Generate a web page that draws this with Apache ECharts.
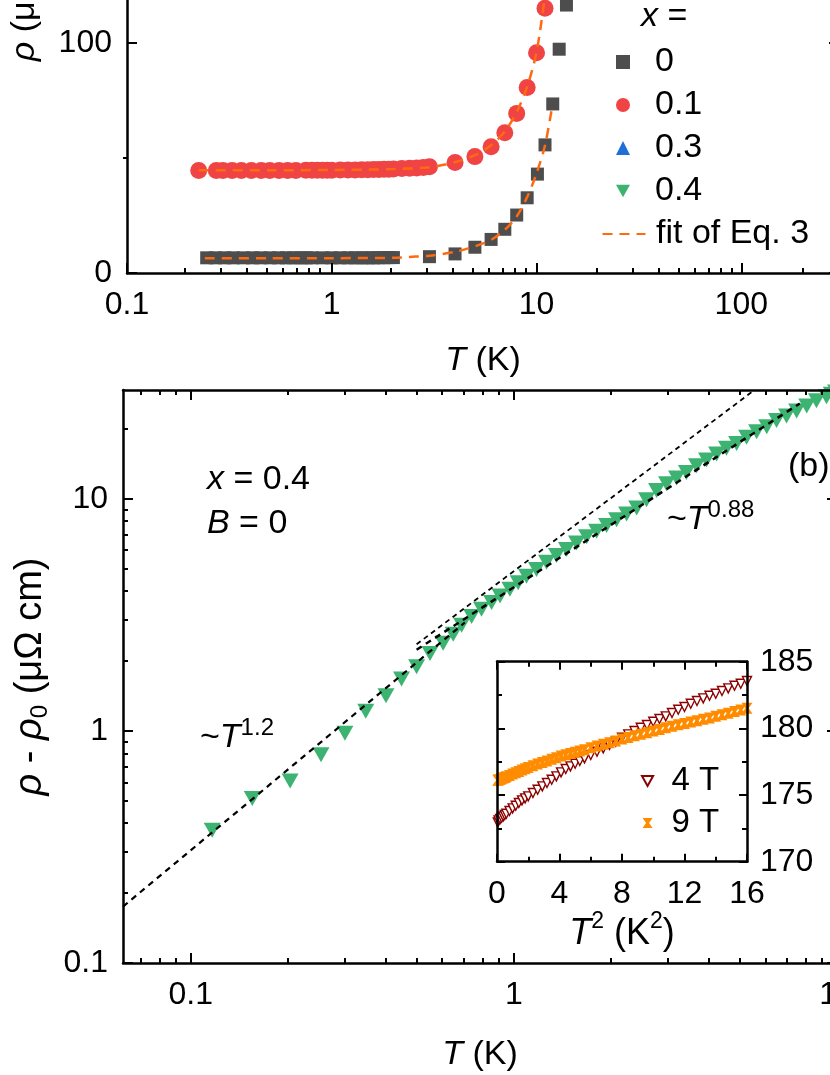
<!DOCTYPE html>
<html><head><meta charset="utf-8">
<script src="https://cdn.jsdelivr.net/npm/echarts@6/dist/echarts.min.js"></script>
<style>
html,body{margin:0;padding:0;width:830px;height:1075px;overflow:hidden;background:#fff}
#c{position:absolute;left:0;top:-330px;width:900px;height:1405px}
</style></head>
<body><div id="c"></div>
<script>
// ---------- panel (a): rho(T) ----------
const T_x0 = [0.245,0.27,0.30,0.33,0.37,0.41,0.45,0.50,0.55,0.60,0.65,0.70,0.75,0.80,0.90,1.0,1.1,1.2,1.3,1.4,1.5,1.6,1.7,1.8,1.9,2.0,3.0,4.0,5.0,6.0,7.0,8.0,9.0,10.1,11.0,12.0,12.9,14.0];
const rho_x0 = [6.6,6.6,6.6,6.6,6.6,6.6,6.6,6.6,6.6,6.6,6.6,6.6,6.6,6.6,6.6,6.6,6.6,6.6,6.6,6.6,6.6,6.6,6.65,6.65,6.7,6.7,7.1,8.3,11.2,14.6,19.0,25.2,32.7,43.0,55.7,73.5,97.3,116.5];
const T_x01 = [0.224,0.273,0.294,0.326,0.362,0.405,0.452,0.498,0.553,0.609,0.668,0.747,0.80,0.85,0.90,0.95,1.0,1.1,1.2,1.3,1.4,1.5,1.6,1.7,1.8,1.9,2.0,2.2,2.4,2.6,2.8,3.0,4.0,5.0,6.0,7.0,8.0,9.0,10.0,11.0];
const rho_x01 = [44.6,44.6,44.6,44.6,44.6,44.6,44.6,44.6,44.6,44.6,44.6,44.7,44.7,44.7,44.7,44.7,44.7,44.8,44.8,44.8,44.9,44.9,45.0,45.0,45.1,45.1,45.2,45.4,45.5,45.7,45.9,46.2,48.0,50.6,54.9,61.0,69.4,80.7,95.8,115.1];
const fitT_x0 = [0.24,0.5,1,2,2.4,3,4,5,6,7,8,9,10,11,11.9];
const fitR_x0 = [6.4,6.4,6.45,6.6,7.0,7.5,9.2,11.6,14.4,18.8,24.6,33.0,43.3,55.5,72];
const fitT_x01 = [0.224,0.5,1,2,3,4,5,6,7,8,9,10,10.9];
const fitR_x01 = [44.7,44.7,44.8,45.2,46.0,48.2,51.2,55.5,61.5,70,81,96,118];
const legendA = ['0','0.1','0.3','0.4'];
const legendFit = ['fit of Eq. 3'];
const topXTicks = [0.1,1,10,100];
const topXMinor = [0.2,0.3,0.4,0.5,0.6,0.7,0.8,0.9,2,3,4,5,6,7,8,9,20,30,40,50,60,70,80,90,200];
const topYTicks = [0,100,200];
const topYMinor = [50,150];

// ---------- panel (b): rho - rho0 for x = 0.4 ----------
const T_b = [0.1165,0.155,0.203,0.253,0.300,0.348,0.402,0.449,0.500,0.550,0.604,0.649,0.689,0.740,0.794,0.853,0.906,0.972,1.031,1.094,1.175,1.262,1.355,1.455,1.563,1.679,1.803,1.936,2.079,2.233,2.399,2.574,2.764,2.968,3.187,3.42,3.675,3.946,4.24,4.55,4.89,5.25,5.64,6.06,6.50,6.98,7.50,8.06,8.64,9.28,9.6,9.9];
const drho_b = [0.373,0.511,0.608,0.789,0.977,1.215,1.418,1.672,1.888,2.156,2.386,2.61,2.85,3.11,3.34,3.57,3.81,4.07,4.35,4.64,4.96,5.33,5.69,6.04,6.45,6.85,7.24,7.66,8.12,8.60,9.12,9.90,10.85,11.60,12.27,12.97,13.86,14.70,15.6,16.5,17.3,18.4,19.45,20.4,21.7,22.7,23.9,25.1,26.4,27.5,28.2,28.8];
const lineA_T = [0.0617,0.705], lineA_R = [0.175,2.93];   // ~T^1.2
const lineB_T = [0.50,7.67],    lineB_R = [2.236,25.7];   // ~T^0.88
const lineC_T = [0.50,5.5],     lineC_R = [2.36,29.1];
const botXTicks = [0.1,1,10];
const botXMinor = [0.07,0.08,0.09,0.2,0.3,0.4,0.5,0.6,0.7,0.8,0.9,2,3,4,5,6,7,8,9];
const botYTicks = [0.1,1,10];
const botYMinor = [0.2,0.3,0.4,0.5,0.6,0.7,0.8,0.9,2,3,4,5,6,7,8,9,20];

// ---------- inset: rho vs T^2 ----------
const T2_in = [0.05,0.1,0.2,0.3,0.4,0.5,0.6,0.8,1.0,1.2,1.4,1.6,1.8,2.0,2.3,2.6,2.9,3.2,3.5,3.8,4.1,4.4,4.7,5.0,5.3,5.6,6.0,6.4,6.8,7.2,7.6,8.0,8.4,8.8,9.2,9.6,10.0,10.4,10.8,11.2,11.6,12.0,12.4,12.8,13.2,13.6,14.0,14.4,14.8,15.2,15.6,16.0];
const rho_4T = [172.95,173.1,173.2,173.3,173.4,173.5,173.6,173.8,174.0,174.2,174.4,174.6,174.75,174.9,175.15,175.4,175.65,175.9,176.15,176.4,176.7,176.95,177.15,177.35,177.55,177.75,178.0,178.25,178.5,178.75,179.0,179.3,179.55,179.8,180.05,180.25,180.5,180.7,180.9,181.15,181.4,181.6,181.85,182.05,182.25,182.45,182.6,182.8,183.0,183.2,183.35,183.55];
const rho_9T = [176.1,176.12,176.17,176.22,176.27,176.32,176.37,176.47,176.57,176.67,176.77,176.87,176.97,177.07,177.2,177.32,177.44,177.56,177.68,177.8,177.92,178.03,178.12,178.2,178.3,178.4,178.55,178.68,178.8,178.93,179.05,179.2,179.32,179.44,179.56,179.68,179.8,179.92,180.04,180.16,180.28,180.36,180.48,180.58,180.68,180.78,180.9,181.02,181.14,181.26,181.38,181.5];
const legendIn = ['4 T','9 T'];

// ---------- helpers ----------
const OFF = 330;
const FONT = 'Liberation Sans';
const C = v => v + OFF;
const zip = (a, b) => a.map((v, i) => [v, b[i]]);
const logFmt = v => String(Number(Number(v).toPrecision(6)));
const BLACK = '#000';
const DOWN_TRI = 'path://M0,0L10,0L5,9Z';
const BOWTIE = 'path://M0,0L10,0L6.5,5L10,10L0,10L3.5,5Z';

function rich(base, lh, sup) {
  lh = lh || 44; sup = sup || 24;
  return {
    n: {fontSize: base, lineHeight: lh, fontFamily: FONT, color: BLACK, fill: BLACK},
    i: {fontSize: base, lineHeight: lh, fontFamily: FONT, fontStyle: 'italic', color: BLACK, fill: BLACK},
    p: {fontSize: sup, lineHeight: sup, fontFamily: FONT, verticalAlign: 'top', color: BLACK, fill: BLACK},
    s: {fontSize: sup, lineHeight: sup, fontFamily: FONT, verticalAlign: 'bottom', color: BLACK, fill: BLACK}
  };
}

function axis(o) {
  return {
    type: o.type, gridIndex: o.g, position: o.pos, min: o.min, max: o.max,
    logBase: 10, interval: o.interval,
    axisLine: {show: o.line !== false, onZero: false, lineStyle: {color: BLACK, width: 2.5}},
    axisTick: {show: true, inside: true, length: o.len || 10, customValues: o.ticks, lineStyle: {color: BLACK, width: 2}},
    minorTick: o.minor ? {show: true, splitNumber: o.minor, length: 5, lineStyle: {color: BLACK, width: 2}} : {show: false},
    axisLabel: o.labels ? {show: true, customValues: o.labelValues, margin: o.margin, fontSize: 32,
      fontFamily: FONT, color: BLACK, formatter: o.fmt} : {show: false},
    splitLine: {show: false}, minorSplitLine: {show: false},
    name: o.name || '', nameLocation: 'middle', nameGap: o.nameGap || 0,
    nameTextStyle: {fontSize: 34, fontFamily: FONT, color: BLACK, rich: o.nameRich || rich(34)},
    z: 5
  };
}

const gridA = {left: 123, top: C(-302), width: 716, height: 575};
const gridB = {left: 123, top: C(390), width: 714, height: 573};
const gridI = {left: 497, top: C(661.7), width: 250, height: 200, show: true, backgroundColor: '#fff', borderWidth: 0};

const xAxes = [
  axis({type:'log', g:0, pos:'bottom', min:0.1, max:300, ticks:topXTicks, labels:true, labelValues:topXTicks, margin:16, fmt:logFmt,
        name:'{i|T}{n| (K)}', nameGap:66}),
  axis({type:'log', g:0, pos:'top', min:0.1, max:300, ticks:topXTicks}),
  axis({type:'log', g:1, pos:'bottom', min:0.1, max:300, ticks:topXMinor, len:5, line:false}),
  axis({type:'log', g:1, pos:'top', min:0.1, max:300, ticks:topXMinor, len:5, line:false}),
  axis({type:'log', g:2, pos:'bottom', min:0.0617, max:10, ticks:botXTicks, labels:true, labelValues:botXTicks, margin:16, fmt:logFmt,
        name:'{i|T}{n| (K)}', nameGap:70}),
  axis({type:'log', g:2, pos:'top', min:0.0617, max:10, ticks:botXTicks}),
  axis({type:'log', g:3, pos:'bottom', min:0.0617, max:10, ticks:botXMinor, len:5, line:false}),
  axis({type:'log', g:3, pos:'top', min:0.0617, max:10, ticks:botXMinor, len:5, line:false}),
  axis({type:'value', g:4, pos:'bottom', min:0, max:16, interval:4, minor:2, len:8, labels:true, margin:16,
        name:'{i|T}{p|2}{n| (K}{p|2}{n|)}', nameGap:48, nameRich: rich(36, 46, 23)}),
  axis({type:'value', g:4, pos:'top', min:0, max:16, interval:4, minor:2, len:8})
];
const yAxes = [
  axis({type:'value', g:0, pos:'left', min:0, max:250, ticks:topYTicks, labels:true, labelValues:topYTicks, margin:15,
        name:'{i|ρ}{n| (μΩ cm)}', nameGap:80}),
  axis({type:'value', g:0, pos:'right', min:0, max:250, ticks:topYTicks}),
  axis({type:'value', g:1, pos:'left', min:0, max:250, ticks:topYMinor, len:5, line:false}),
  axis({type:'value', g:1, pos:'right', min:0, max:250, ticks:topYMinor, len:5, line:false}),
  axis({type:'log', g:2, pos:'left', min:0.1, max:29.4, ticks:botYTicks, labels:true, labelValues:botYTicks, margin:15, fmt:logFmt,
        name:'{i|ρ}{n| - }{i|ρ}{s|0}{n| (μΩ cm)}', nameGap:70, nameRich: rich(38, 44, 24)}),
  axis({type:'log', g:2, pos:'right', min:0.1, max:29.4, ticks:botYTicks}),
  axis({type:'log', g:3, pos:'left', min:0.1, max:29.4, ticks:botYMinor, len:5, line:false}),
  axis({type:'log', g:3, pos:'right', min:0.1, max:29.4, ticks:botYMinor, len:5, line:false}),
  axis({type:'value', g:4, pos:'left', min:170, max:185, interval:5, minor:2, len:8}),
  axis({type:'value', g:4, pos:'right', min:170, max:185, interval:5, minor:2, len:8, labels:true, margin:13})
];

const GREEN = '#3CB371';
const RED = '#F04444';
const ORANGE = '#FF6A10';
const series = [
  {name:'0', type:'scatter', xAxisIndex:0, yAxisIndex:0, data:zip(T_x0, rho_x0), symbol:'rect', symbolSize:13,
   itemStyle:{color:'#4D4D4D', opacity:1}, z:3},
  {name:'0.1', type:'scatter', xAxisIndex:0, yAxisIndex:0, data:zip(T_x01, rho_x01), symbol:'circle', symbolSize:17,
   itemStyle:{color:RED, opacity:1}, z:3},
  {name:'0.3', type:'scatter', xAxisIndex:0, yAxisIndex:0, data:[], symbol:'triangle', symbolSize:14,
   itemStyle:{color:'#1F6FD8', opacity:1}},
  {name:'0.4', type:'scatter', xAxisIndex:0, yAxisIndex:0, data:[], symbol:'triangle', symbolRotate:180, symbolSize:14,
   itemStyle:{color:GREEN, opacity:1}},
  {name:'fit of Eq. 3', type:'line', xAxisIndex:0, yAxisIndex:0, data:zip(fitT_x0, fitR_x0), symbol:'none', smooth:0.3,
   lineStyle:{color:ORANGE, width:2.5, type:[10,7]}, itemStyle:{color:ORANGE}, z:4},
  {name:'fit of Eq. 3', type:'line', xAxisIndex:0, yAxisIndex:0, data:zip(fitT_x01, fitR_x01), symbol:'none', smooth:0.3,
   lineStyle:{color:ORANGE, width:2.5, type:[10,7]}, itemStyle:{color:ORANGE}, z:4},

  {name:'0.4', type:'scatter', xAxisIndex:4, yAxisIndex:4, data:zip(T_b, drho_b), symbol:'triangle', symbolRotate:180,
   symbolSize:[17,15], itemStyle:{color:GREEN, opacity:1}, z:3},
  {name:'T^1.2', type:'line', xAxisIndex:4, yAxisIndex:4, data:zip(lineA_T, lineA_R), symbol:'none',
   lineStyle:{color:BLACK, width:2.2, type:[6,5]}, z:4},
  {name:'T^0.88', type:'line', xAxisIndex:4, yAxisIndex:4, data:zip(lineB_T, lineB_R), symbol:'none',
   lineStyle:{color:BLACK, width:2.5, type:[6,5]}, z:4},
  {name:'upper', type:'line', xAxisIndex:4, yAxisIndex:4, data:zip(lineC_T, lineC_R), symbol:'none',
   lineStyle:{color:BLACK, width:1.8, type:[5,4]}, z:4},

  {name:'4 T', type:'scatter', xAxisIndex:8, yAxisIndex:8, data:zip(T2_in, rho_4T), symbol:'triangle', symbolRotate:180,
   symbolSize:9, itemStyle:{color:'#fff', borderColor:'#8B0000', borderWidth:1.4, opacity:1}, z:3},
  {name:'9 T', type:'scatter', xAxisIndex:8, yAxisIndex:8, data:zip(T2_in, rho_9T),
   symbol:BOWTIE, symbolSize:11, itemStyle:{color:'#FF8C00', opacity:1}, z:3}
];

function txt(x, y, text) {
  return {type:'text', x:x, y:y, z:10,
    style:{text:text, fontSize:34, fontFamily:FONT, fill:BLACK, align:'left', verticalAlign:'middle', rich: rich(34)}};
}

const legendText = (pad, size) => ({fontSize:size || 34, fontFamily:FONT, color:BLACK, lineHeight:34, padding:[0,0,0,pad]});

const option = {
  animation: false,
  textStyle: {fontFamily: FONT},
  grid: [gridA, gridA, gridB, gridB, gridI],
  xAxis: xAxes,
  yAxis: yAxes,
  legend: [
    {data: legendA.map((n, k) => ({name:n, icon:['rect','circle','triangle',DOWN_TRI][k]})),
     orient:'vertical', left:616, top:C(45), padding:0, itemWidth:14, itemHeight:14, itemGap:9, selectedMode:false,
     textStyle:legendText(20)},
    {data: legendFit.map(n => ({name:n, itemStyle:{opacity:0}})),
     orient:'vertical', left:601.5, top:C(217), padding:0, itemWidth:43, itemHeight:14, itemGap:9, selectedMode:false,
     textStyle:legendText(5.5)},
    {data: [{name:legendIn[0], icon:DOWN_TRI}, {name:legendIn[1], icon:BOWTIE}],
     orient:'vertical', left:641, top:C(764), padding:0, itemWidth:14, itemHeight:10, itemGap:8, selectedMode:false,
     textStyle:legendText(12, 33)}
  ],
  graphic: [
    txt(641, C(17), '{i|x}{n| =}'),
    txt(207, C(480), '{i|x}{n| = 0.4}'),
    txt(207, C(524), '{i|B}{n| = 0}'),
    txt(788, C(467), '{n|(b)}'),
    txt(667, C(520), '{n|~}{i|T}{p|0.88}'),
    txt(200, C(738), '{n|~}{i|T}{p|1.2}')
  ],
  series: series
};

const chart = echarts.init(document.getElementById('c'), null, {renderer:'canvas'});
chart.setOption(option);
</script>
</body></html>
